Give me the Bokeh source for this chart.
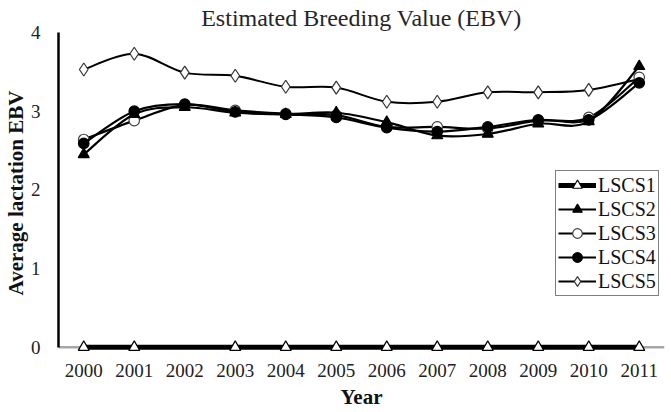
import math
from bokeh.plotting import figure
from bokeh.models import (Range1d, FixedTicker, Legend, LegendItem, Span,
                          ColumnDataSource, CDSView, BooleanFilter)
from bokeh.embed import file_html
from bokeh.resources import INLINE

# ---- data ----
years = [2000, 2001, 2002, 2003, 2004, 2005, 2006, 2007, 2008, 2009, 2010, 2011]
lscs1 = [0, 0, 0, 0, 0, 0, 0, 0, 0, 0, 0, 0]
lscs1_marker_shown = [True, True, False, True, True, True, True, True, True, True, True, True]
lscs2 = [2.45, 2.96, 3.05, 2.98, 2.96, 2.98, 2.86, 2.69, 2.71, 2.84, 2.87, 3.57]
lscs3 = [2.64, 2.88, 3.08, 3.01, 2.97, 2.95, 2.80, 2.80, 2.78, 2.88, 2.92, 3.43]
lscs4 = [2.59, 3.00, 3.09, 2.99, 2.96, 2.92, 2.79, 2.74, 2.80, 2.89, 2.89, 3.36]
lscs5 = [3.53, 3.73, 3.49, 3.45, 3.31, 3.30, 3.12, 3.12, 3.24, 3.24, 3.27, 3.41]
y_ticks = [0, 1, 2, 3, 4]
series_names = ["LSCS1", "LSCS2", "LSCS3", "LSCS4", "LSCS5"]

SERIF = "'Liberation Serif', 'Times New Roman', serif"

p = figure(width=670, height=411, output_backend="svg", toolbar_location=None,
           title="Estimated Breeding Value (EBV)",
           x_range=Range1d(1999.5, 2011.5), y_range=Range1d(-0.08, 4.0),
           min_border_left=57, min_border_right=6, min_border_top=32,
           min_border_bottom=57)
p.outline_line_color = None
p.xgrid.grid_line_color = None
p.ygrid.grid_line_color = None
p.background_fill_color = "white"
p.border_fill_color = "white"

p.title.text_font = SERIF
p.title.text_font_size = "24px"
p.title.text_font_style = "normal"
p.title.text_color = "#262626"
p.title.align = "center"
p.title.offset = 12
p.title.standoff = 4

# axes
p.xaxis.ticker = FixedTicker(ticks=years)
p.yaxis.ticker = FixedTicker(ticks=y_ticks)
for ax in (p.xaxis, p.yaxis):
    ax.major_tick_out = 0
    ax.major_tick_in = 0
    ax.minor_tick_out = 0
    ax.minor_tick_in = 0
    ax.major_label_text_font = SERIF
    ax.major_label_text_font_size = "19px"
    ax.major_label_text_color = "#222222"
    ax.axis_label_text_font = SERIF
    ax.axis_label_text_font_size = "21px"
    ax.axis_label_text_font_style = "bold"
    ax.axis_label_text_color = "#111111"
p.xaxis.axis_line_color = None
p.xaxis.major_label_standoff = 10
p.xaxis.axis_label_standoff = 5
p.xaxis.axis_label = "Year"
p.yaxis.axis_line_color = "black"
p.yaxis.axis_line_width = 2.5
p.yaxis.bounds = (0, 4)
p.yaxis.major_label_standoff = 18
p.yaxis.axis_label_standoff = 0
p.yaxis.axis_label = "Average lactation EBV"

# gray baseline at zero
base = Span(location=0, dimension="width", line_color="#a6a6a6", line_width=2.5, level="underlay")
p.add_layout(base)


def smooth_controls(xs, ys):
    x0, y0, x1, y1, cx0, cy0, cx1, cy1 = [], [], [], [], [], [], [], []
    n = len(xs)
    for i in range(n - 1):
        pxm, pym = (xs[i - 1], ys[i - 1]) if i > 0 else (xs[i], ys[i])
        pxp, pyp = (xs[i + 2], ys[i + 2]) if i + 2 < n else (xs[i + 1], ys[i + 1])
        x0.append(xs[i]); y0.append(ys[i])
        x1.append(xs[i + 1]); y1.append(ys[i + 1])
        cx0.append(xs[i] + (xs[i + 1] - pxm) / 6.0)
        cy0.append(ys[i] + (ys[i + 1] - pym) / 6.0)
        cx1.append(xs[i + 1] - (pxp - xs[i]) / 6.0)
        cy1.append(ys[i + 1] - (pyp - ys[i]) / 6.0)
    return dict(x0=x0, y0=y0, x1=x1, y1=y1, cx0=cx0, cy0=cy0, cx1=cx1, cy1=cy1)


items = []

# LSCS1: thick line on zero with open triangles
l1 = p.line(years, lscs1, line_color="black", line_width=5)
src1 = ColumnDataSource(dict(x=years, y=lscs1))
m1 = p.scatter("x", "y", source=src1, view=CDSView(filter=BooleanFilter(lscs1_marker_shown)),
               marker="triangle", size=11, fill_color="white", line_color="black", line_width=1.2)
items.append(LegendItem(label=series_names[0], renderers=[l1, m1]))

styles = [
    (lscs5, "diamond", 13, "white", "#333333", 2.0, 4),
    (lscs3, "circle", 10.5, "white", "#404040", 2.2, 2),
    (lscs2, "triangle", 11, "black", "black", 2.2, 1),
    (lscs4, "circle", 10.5, "black", "black", 2.2, 3),
]
legend_map = {}
for vals, mk, sz, fc, lc, lw, idx in styles:
    b = p.bezier(source=ColumnDataSource(smooth_controls(years, vals)),
                 x0="x0", y0="y0", x1="x1", y1="y1", cx0="cx0", cy0="cy0", cx1="cx1", cy1="cy1",
                 line_color="black", line_width=lw)
    m = p.scatter(years, vals, marker=mk, size=sz, fill_color=fc,
                  line_color=lc, line_width=1.2)
    legend_map[idx] = LegendItem(label=series_names[idx], renderers=[b, m])
for idx in (1, 2, 3, 4):
    items.append(legend_map[idx])

legend = Legend(items=items, location=(497, 57), orientation="vertical",
                border_line_color="black", border_line_width=1.5,
                background_fill_color="white", background_fill_alpha=1.0,
                padding=2, spacing=0, margin=0,
                glyph_width=38, glyph_height=24, label_height=24, label_standoff=2,
                label_text_font=SERIF, label_text_font_size="20px",
                label_text_color="#111111")
p.add_layout(legend, "center")

open("out.html", "w").write(file_html(p, INLINE))
